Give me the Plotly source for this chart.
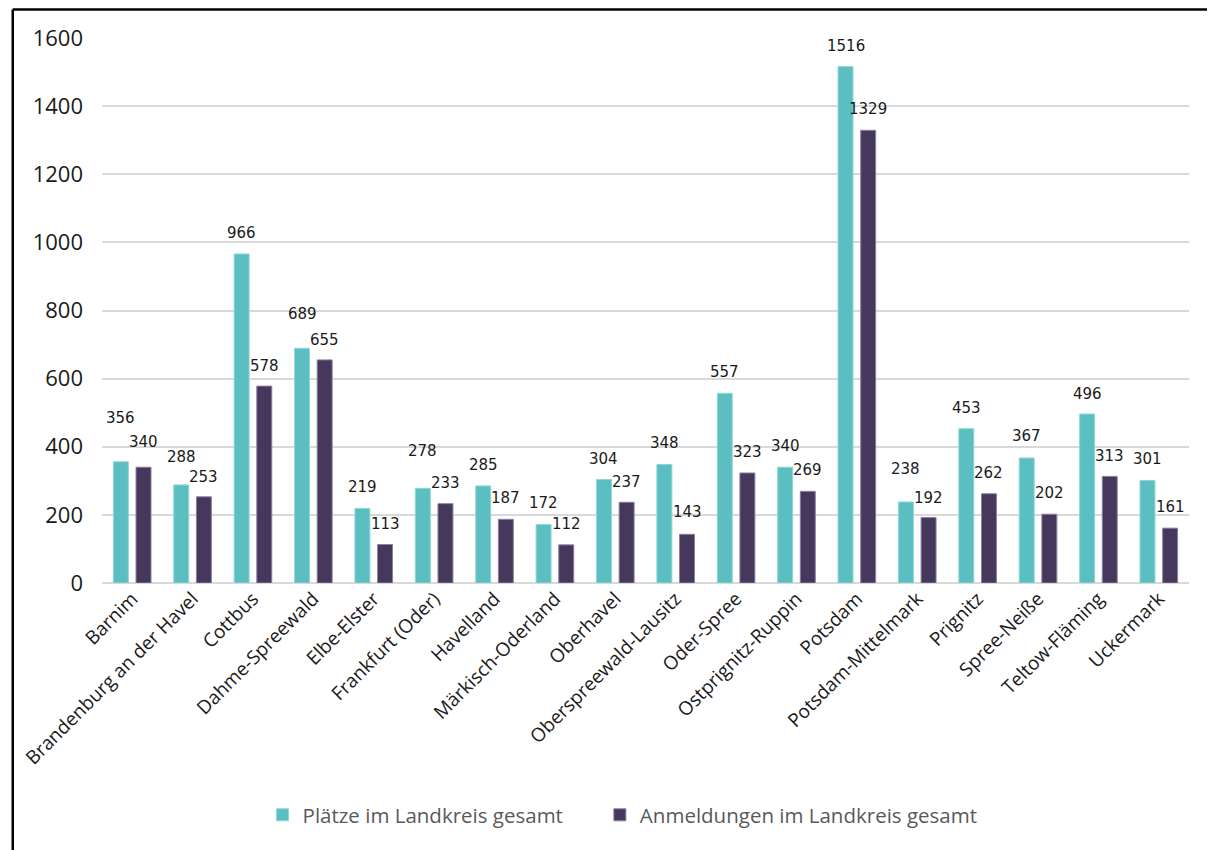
import plotly.graph_objects as go

categories = ["Barnim", "Brandenburg an der Havel", "Cottbus", "Dahme-Spreewald",
              "Elbe-Elster", "Frankfurt (Oder)", "Havelland", "Märkisch-Oderland",
              "Oberhavel", "Oberspreewald-Lausitz", "Oder-Spree", "Ostprignitz-Ruppin",
              "Potsdam", "Potsdam-Mittelmark", "Prignitz", "Spree-Neiße",
              "Teltow-Fläming", "Uckermark"]
plaetze = [356, 288, 966, 689, 219, 278, 285, 172, 304, 348, 557, 340, 1516, 238, 453, 367, 496, 301]
anmeldungen = [340, 253, 578, 655, 113, 233, 187, 112, 237, 143, 323, 269, 1329, 192, 262, 202, 313, 161]
series_names = ["Plätze im Landkreis gesamt", "Anmeldungen im Landkreis gesamt"]
y_ticks = [0, 200, 400, 600, 800, 1000, 1200, 1400, 1600]

# label offsets (px above bar top) - style only
off_p = [44, 28, 21, 34, 21, 37, 21, 21, 20, 21, 21, 21, 21, 33, 21, 22, 20, 21]
off_a = [25, 20, 20, 20, 21, 21, 21, 21, 20, 22, 21, 21, 21, 20, 21, 21, 20, 21]

TEAL = "#5BBFC2"
PURPLE = "#46385C"

# page has an 8px body margin; figure is sized/offset to compensate
PAD = 8
W, H = 1215 - PAD, 850 - PAD
L, R, T, B = 99 - PAD, 26, 38 - PAD, 267
pw = W - L - R
ph = H - T - B
cat_px = pw / len(categories)
bargap = 0.25
shift = cat_px * (1 - bargap) / 4

NBSP = "\u00a0"
fig = go.Figure()
fig.add_trace(go.Bar(x=categories, y=plaetze, name=series_names[0] + NBSP * 6,
                     marker=dict(color=TEAL, line=dict(color="#8fd6d7", width=1))))
fig.add_trace(go.Bar(x=categories, y=anmeldungen, name=series_names[1],
                     marker=dict(color=PURPLE, line=dict(color="#8a80a0", width=1))))

lab_font = dict(family="DejaVu Sans", size=15, color="#1a1a1a")
annos = []
for c, v, o in zip(categories, plaetze, off_p):
    annos.append(dict(x=c, y=v, text=str(v), showarrow=False, xshift=-shift, yshift=o,
                      yanchor="middle", font=lab_font))
for c, v, o in zip(categories, anmeldungen, off_a):
    annos.append(dict(x=c, y=v, text=str(v), showarrow=False, xshift=shift, yshift=o,
                      yanchor="middle", font=lab_font))

def px2x(px):
    return (px - PAD - L) / pw

def py2y(py):
    return (H - B - (py - PAD)) / ph

shapes = [
    dict(type="line", xref="paper", yref="paper", x0=px2x(9.5), x1=px2x(1240),
         y0=py2y(9.5), y1=py2y(9.5), line=dict(color="black", width=2.5)),
    dict(type="line", xref="paper", yref="paper", x0=px2x(9.5), x1=px2x(9.5),
         y0=py2y(9.5), y1=py2y(880), line=dict(color="black", width=2.5)),
]

fig.update_layout(
    width=W, height=H,
    margin=dict(l=L, r=R, t=T, b=B),
    paper_bgcolor="white", plot_bgcolor="white",
    barmode="group", bargap=bargap, bargroupgap=0.339,
    font=dict(family="Open Sans", color="#1a1a1a"),
    annotations=annos,
    shapes=shapes,
    showlegend=True,
    legend=dict(orientation="h", xanchor="left", x=px2x(260), yanchor="middle", y=py2y(815),
                font=dict(family="Open Sans", size=20.5, color="#595959"),
                itemwidth=30, traceorder="normal"),
    xaxis=dict(type="category", tickangle=-45, showgrid=False, showline=False, ticks="",
               tickfont=dict(family="Open Sans", size=19, color="#1a1a1a")),
    yaxis=dict(range=[0, 1600], tickvals=y_ticks, showgrid=True, gridcolor="#D9D9D9",
               gridwidth=1.5, zeroline=True, zerolinecolor="#D9D9D9", zerolinewidth=1.5,
               showline=False, ticks="", ticklabelstandoff=18,
               tickfont=dict(family="Open Sans", size=22, color="#1a1a1a")),
)

fig.write_html("out.html")
